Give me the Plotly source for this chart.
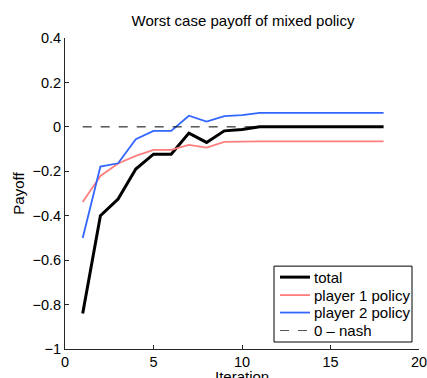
import plotly.graph_objects as go

# Worst-case payoff per iteration of the mixed policy
iterations = list(range(1, 19))
total = [-0.84, -0.40, -0.325, -0.19, -0.123, -0.123, -0.028, -0.07, -0.018, -0.012,
         0.0, 0.0, 0.0, 0.0, 0.0, 0.0, 0.0, 0.0]
player1 = [-0.338, -0.221, -0.165, -0.131, -0.104, -0.104, -0.081, -0.093, -0.068, -0.065,
           -0.065, -0.065, -0.065, -0.065, -0.065, -0.065, -0.065, -0.065]
player2 = [-0.50, -0.179, -0.164, -0.056, -0.018, -0.018, 0.050, 0.024, 0.048, 0.053,
           0.063, 0.063, 0.063, 0.063, 0.063, 0.063, 0.063, 0.063]
nash = [0.0] * len(iterations)

x_ticks = [0, 5, 10, 15, 20]
y_ticks = [-1, -0.8, -0.6, -0.4, -0.2, 0, 0.2, 0.4]

FONT = "Liberation Sans, Arial, Helvetica, sans-serif"
W, H = 427, 378
ML, MR, MT, MB = 65, 8, 37.5, 29
PW, PH = W - ML - MR, H - MT - MB


def px_x(p):
    """Pixel column -> paper x."""
    return (p - ML) / PW


def px_y(p):
    """Pixel row -> paper y."""
    return 1 - (p - MT) / PH


series = [
    ("total", total, dict(color="black", width=3)),
    ("player 1 policy", player1, dict(color="#ff7f7f", width=1.8)),
    ("player 2 policy", player2, dict(color="#3366ff", width=1.8)),
    ("0 \u2013 nash", nash, dict(color="black", width=1, dash="dash")),
]

fig = go.Figure()
for name, values, line in series:
    fig.add_trace(go.Scatter(x=iterations, y=values, mode="lines", name=name,
                             line=line, showlegend=False))

axis_common = dict(
    showgrid=False, zeroline=False, showline=True, linecolor="#262626", linewidth=1,
    ticks="inside", ticklen=4, tickcolor="#262626", mirror=False,
    ticklabeloverflow="allow",
    tickfont=dict(family=FONT, size=14.5, color="black"),
)

# Boxed legend in the lower right corner of the axes
shapes = [dict(type="rect", xref="paper", yref="paper",
               x0=px_x(274), x1=px_x(412), y0=px_y(342), y1=px_y(266),
               line=dict(color="black", width=1), fillcolor="white", layer="above")]
annotations = []
legend_rows = [277, 295, 312.5, 330.5]
for (name, _, line), row in zip(series, legend_rows):
    lw = line.get("width", 1)
    sample_color = "#555555" if line.get("dash") else line["color"]
    shapes.append(dict(type="line", xref="paper", yref="paper",
                       x0=px_x(280), x1=px_x(310), y0=px_y(row), y1=px_y(row),
                       line=dict(color=sample_color, width=lw, dash=line.get("dash", "solid")),
                       layer="above"))
    annotations.append(dict(text=name, xref="paper", yref="paper",
                            x=px_x(312), y=px_y(row), xanchor="left", yanchor="middle",
                            showarrow=False, font=dict(family=FONT, size=15, color="black")))

# x-axis title sits low, just under the tick labels
annotations.append(dict(text="Iteration", xref="paper", yref="paper",
                        x=0.5, y=px_y(377), xanchor="center", yanchor="middle",
                        showarrow=False, font=dict(family=FONT, size=15, color="black")))

fig.update_layout(
    width=W, height=H,
    margin=dict(l=ML, r=MR, t=MT, b=MB),
    paper_bgcolor="white", plot_bgcolor="white",
    font=dict(family=FONT, size=15, color="black"),
    title=dict(text="Worst case payoff of mixed policy", x=243 / W,
               xanchor="center", y=1 - 21 / H, yanchor="middle",
               font=dict(family=FONT, size=15, color="black")),
    xaxis=dict(range=[0, 20], tickvals=x_ticks, ticktext=[str(v) for v in x_ticks],
               automargin=False, **axis_common),
    yaxis=dict(range=[-1, 0.4], tickvals=y_ticks,
               ticktext=[("\u2212" if v < 0 else "") + f"{abs(v):g}" for v in y_ticks],
               title=dict(text="Payoff", standoff=4, font=dict(size=15)),
               automargin=False, **axis_common),
    shapes=shapes,
    annotations=annotations,
    showlegend=False,
)

fig.write_html("out.html")
